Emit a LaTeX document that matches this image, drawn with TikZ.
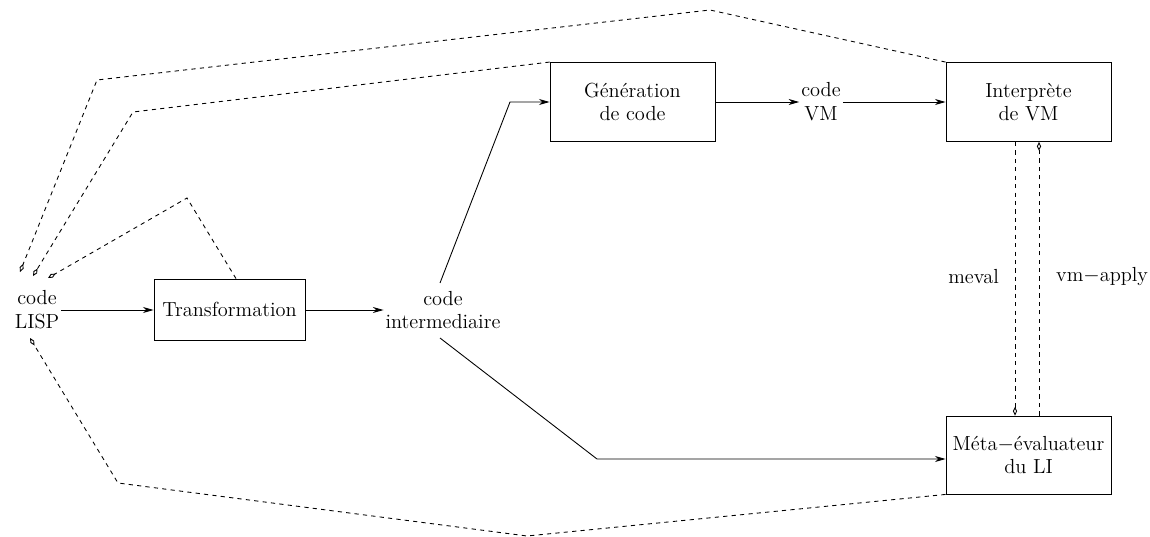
\documentclass[tikz,border=0pt]{standalone}
\usetikzlibrary{arrows.meta}
\tikzset{
  boite/.style={draw,line width=0.5pt,inner sep=0pt,align=center},
  texte/.style={inner sep=1pt,align=center},
  fleche/.style={line width=0.5pt,-{Stealth[length=6pt,width=3.4pt,inset=1.8pt]}},
  retour/.style={line width=0.5pt,dash pattern=on 2.4pt off 2.4pt,
    -{Diamond[open,length=5pt,width=2.4pt]}}
}
\begin{document}
\begin{tikzpicture}[x=0.02cm,y=-0.02cm,font=\fontsize{11.6}{13.5}\selectfont]
  \useasboundingbox (0,0) rectangle (1150,537);
  % les boites
  \node[boite,minimum width=3.02cm,minimum height=1.22cm] (transfo) at (229.5,309.5) {Transformation};
  \node[boite,minimum width=3.3cm,minimum height=1.58cm] (gen) at (632.5,102) {Génération\\de code};
  \node[boite,minimum width=3.3cm,minimum height=1.58cm] (interp) at (1028.5,102) {Interprète\\de VM};
  \node[boite,minimum width=3.3cm,minimum height=1.56cm] (meta) at (1028.5,455) {Méta$-$évaluateur\\du LI};
  % les textes
  \node[texte] (lisp) at (37,310) {code\\LISP};
  \node[texte] (inter) at (443,310) {code\\intermediaire};
  \node[texte] (vm) at (821,102) {code\\VM};
  \node[anchor=east] (meval) at (1005,277) {meval};
  \node[anchor=west] (apply) at (1050,277) {vm$-$apply};
  % la chaine de compilation
  \draw[fleche] (lisp.east) -- (transfo.west |- lisp.east);
  \draw[fleche] (transfo.east |- inter.west) -- (inter.west);
  \draw[fleche] (440,283) -- (510,102) -- (gen.west);
  \draw[fleche] (gen.east) -- (vm.west);
  \draw[fleche] (vm.east) -- (interp.west);
  \draw[fleche] (440,338) -- (597,459) -- (meta.west |- 0,459);
  \draw[retour] (interp.south -| 1015,0) -- (meta.north -| 1015,0);
  \draw[retour] (meta.north -| 1039,0) -- (interp.south -| 1039,0);
  % les retours vers le code LISP
  \coordinate (r1) at (20,272);
  \coordinate (r2) at (33,276);
  \coordinate (r3) at (48,278);
  \coordinate (r4) at (30,338);
  \draw[retour] (interp.north west) -- (710,10) -- (97,80) -- (r1);
  \draw[retour] (gen.north west) -- (133,112) -- (r2);
  \draw[retour] (transfo.north -| 236,0) -- (187,198) -- (r3);
  \draw[retour] (meta.south west) -- (527,536) -- (118,483) -- (r4);
\end{tikzpicture}
\end{document}
